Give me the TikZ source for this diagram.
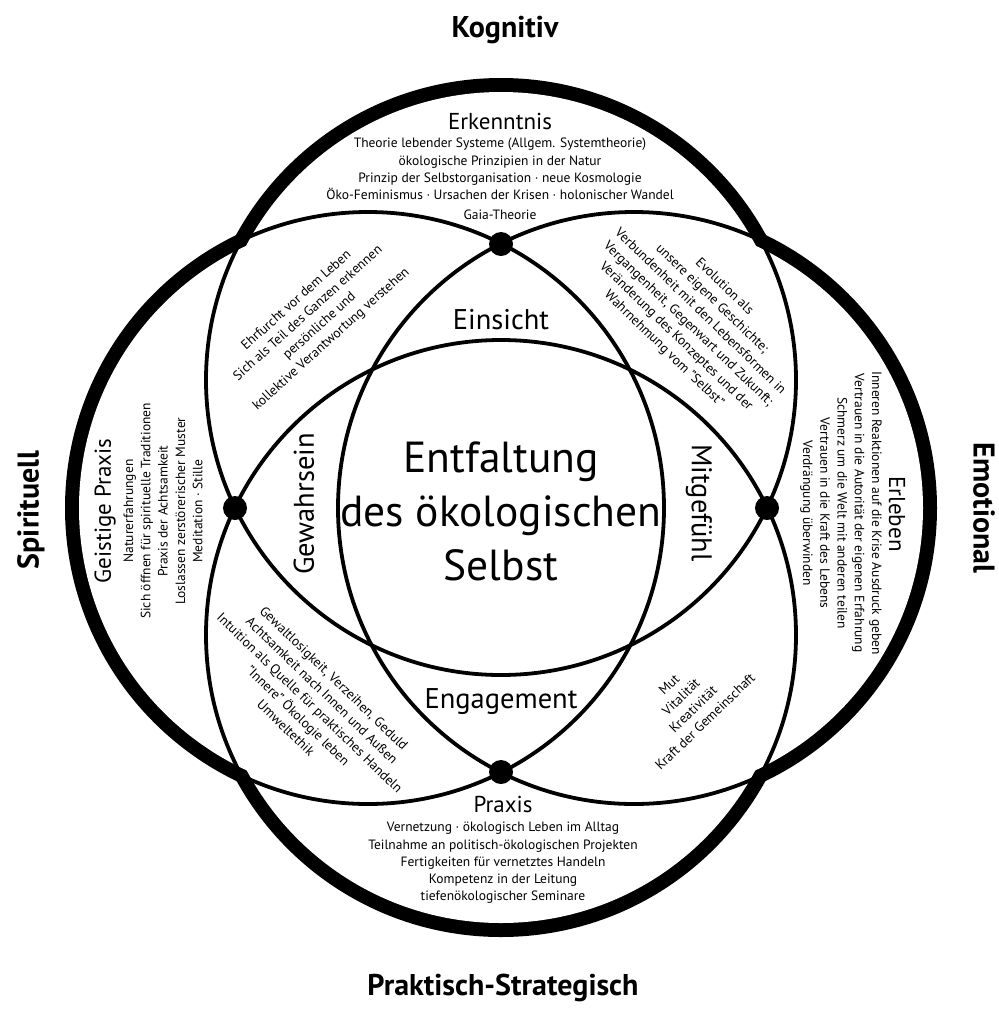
\documentclass[tikz,border=0pt]{standalone}
\usepackage{fontspec}
\setmainfont{PT Sans}
\begin{document}
\begin{tikzpicture}[x=1pt,y=-1pt,
  thinline/.style={line width=3.8pt},
  smalltxt/.style={align=center,inner sep=0pt,font=\fontsize{13.5}{17.3}\selectfont},
  midtitle/.style={align=center,inner sep=0pt,font=\fontsize{23}{27}\selectfont},
  lenslabel/.style={inner sep=0pt,font=\fontsize{28.5}{32}\selectfont},
  heading/.style={inner sep=0pt,font=\fontsize{30}{34}\selectfont\bfseries},
  dot/.style={fill=black}]
\useasboundingbox (0,0) rectangle (999,1021);
\coordinate (T) at (501,380);
\coordinate (B) at (501,635);
\coordinate (L) at (368,508);
\coordinate (Rr) at (634,508);
% thick outer envelope
\foreach \c/\r in {T/295,B/295,L/296,Rr/296} \draw[line width=28pt] (\c) circle[radius=\r pt - 7pt];
\foreach \c/\r in {T/295,B/295,L/296,Rr/296} \fill[white] (\c) circle[radius=\r pt - 7pt];
% thin circles
\foreach \c/\r in {T/295,B/295,L/296,Rr/296} \draw[thinline] (\c) circle[radius=\r pt];
% dots
\coordinate (dT) at (501,244);
\coordinate (dB) at (501,772);
\coordinate (dL) at (235,508);
\coordinate (dR) at (767,508);
\foreach \c in {dT,dB,dL,dR} \fill[dot] (\c) circle[radius=12pt];
% headings
\node[heading] (kog) at (505,30) {Kognitiv};
\node[heading] (prak) at (503,988) {Praktisch-Strategisch};
\node[heading,rotate=90] (spir) at (31,510) {Spirituell};
\node[heading,rotate=-90] (emo) at (984,508) {Emotional};
% centre
\node[align=center,inner sep=0pt,font=\fontsize{43.5}{54}\selectfont] (core) at (501,511) {Entfaltung\\des ökologischen\\Selbst};
\node[lenslabel] (ein) at (501,320) {Einsicht};
\node[lenslabel] (eng) at (501,702) {Engagement};
\node[lenslabel,rotate=90] (gew) at (304,504) {Gewahrsein};
\node[lenslabel,rotate=-90] (mit) at (699,503) {Mitgefühl};
% outer regions
\node[midtitle] (erk) at (500,121) {Erkenntnis};
\node[smalltxt] (erkl) at (500,169) {Theorie lebender Systeme (Allgem. Systemtheorie)\\ökologische Prinzipien in der Natur\\Prinzip der Selbstorganisation · neue Kosmologie\\Öko-Feminismus · Ursachen der Krisen · holonischer Wandel};
\node[smalltxt] (gaia) at (500,215) {Gaia-Theorie};
\node[midtitle] (prx) at (503,804) {Praxis};
\node[smalltxt] (prxl) at (503,863) {Vernetzung · ökologisch Leben im Alltag\\Teilnahme an politisch-ökologischen Projekten\\Fertigkeiten für vernetztes Handeln\\Kompetenz in der Leitung\\tiefenökologischer Seminare};
\node[midtitle,rotate=90] (geist) at (105,511) {Geistige Praxis};
\node[smalltxt,rotate=90] (geistl) at (163,511) {Naturerfahrungen\\Sich öffnen für spirituelle Traditionen\\Praxis der Achtsamkeit\\Loslassen zerstörerischer Muster\\Meditation · Stille};
\node[midtitle,rotate=-90] (erl) at (897,514) {Erleben};
\node[smalltxt,rotate=-90] (erll) at (841,513) {Inneren Reaktionen auf die Krise Ausdruck geben\\Vertrauen in die Autorität der eigenen Erfahrung\\Schmerz um die Welt mit anderen teilen\\Vertrauen in die Kraft des Lebens\\Verdrängung überwinden};
% corner regions
\node[smalltxt,rotate=42] (ul) at (314,320) {Ehrfurcht vor dem Leben\\Sich als Teil des Ganzen erkennen\\persönliche und\\kollektive Verantwortung verstehen};
\node[smalltxt,rotate=-44] (ur) at (694,318) {Evolution als\\unsere eigene Geschichte;\\Verbundenheit mit den Lebensformen in\\Vergangenheit, Gegenwart und Zukunft;\\Veränderung des Konzeptes und der\\Wahrnehmung vom "Selbst"};
\node[smalltxt,rotate=-44] (ll) at (310,703) {Gewaltlosigkeit, Verzeihen, Geduld\\Achtsamkeit nach Innen und Außen\\Intuition als Quelle für praktisches Handeln\\"Innere" Ökologie leben\\Umweltethik};
\node[smalltxt,rotate=44] (lr) at (687,703) {Mut\\Vitalität\\Kreativität\\Kraft der Gemeinschaft};
\end{tikzpicture}
\end{document}
